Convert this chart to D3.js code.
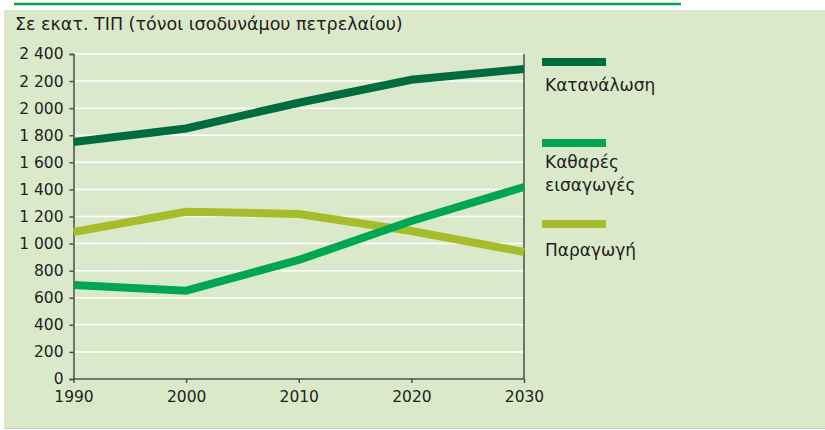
<!DOCTYPE html>
<html><head><meta charset="utf-8">
<script src="https://cdn.jsdelivr.net/npm/d3@7"></script>
<style>body{margin:0;background:#fff}svg{display:block}</style>
</head><body>
<script>
const years = [1990, 2000, 2010, 2020, 2030];
const consumption = [1750, 1850, 2040, 2210, 2290];
const netImports = [694, 652, 879, 1167, 1418];
const production = [1086, 1235, 1219, 1093, 938];
const seriesNames = ["Κατανάλωση", "Καθαρές εισαγωγές", "Παραγωγή"];
const seriesColors = ["#006b3f", "#00a651", "#a5bd2b"];
const yTicks = [0, 200, 400, 600, 800, 1000, 1200, 1400, 1600, 1800, 2000, 2200, 2400];
const title = "Σε εκατ. ΤΙΠ (τόνοι ισοδυνάμου πετρελαίου)";

const W = 825, H = 430;
const svg = d3.select("body").append("svg").attr("width", W).attr("height", H);
const font = "'DejaVu Sans', sans-serif";

svg.append("rect").attr("x", 4).attr("y", 10).attr("width", W - 4).attr("height", 418).attr("fill", "#dbe9cb");
svg.append("line").attr("x1", 4).attr("x2", W).attr("y1", 428.5).attr("y2", 428.5).attr("stroke", "#c8cfc4").attr("stroke-width", 1);
svg.append("line").attr("x1", 14).attr("x2", 681).attr("y1", 4).attr("y2", 4).attr("stroke", "#00a651").attr("stroke-width", 2.5);

svg.append("text").attr("x", 15).attr("y", 30).attr("font-family", font).attr("font-size", 17.5).attr("fill", "#231f20").text(title);

const x = d3.scaleLinear().domain([1990, 2030]).range([73.5, 524]);
const y = d3.scaleLinear().domain([0, 2400]).range([379, 54]);

// gridlines
svg.append("g").selectAll("line").data(yTicks.filter(d => d > 0)).join("line")
  .attr("x1", x(1990)).attr("x2", x(2030))
  .attr("y1", d => y(d)).attr("y2", d => y(d))
  .attr("stroke", "#ffffff").attr("stroke-width", 1.5);

const fmt = d => d >= 1000 ? d3.format(",")(d).replace(",", " ") : String(d);

const yAxis = svg.append("g").attr("transform", `translate(${x(1990)},0)`)
  .call(d3.axisLeft(y).tickValues(yTicks).tickSize(4).tickPadding(6).tickFormat(fmt));
const xAxis = svg.append("g").attr("transform", `translate(0,${y(0)})`)
  .call(d3.axisBottom(x).tickValues(years).tickSize(4).tickPadding(8).tickFormat(d3.format("d")));
[yAxis, xAxis].forEach(a => {
  a.selectAll("path,line").attr("stroke", "#4d4d4d").attr("stroke-width", 1.5);
  a.selectAll("text").attr("font-family", font).attr("font-size", 15.5).attr("fill", "#231f20");
});
xAxis.select(".domain").attr("d", `M${x(1990)},0H${x(2030)}`);

// right vertical line
svg.append("line").attr("x1", x(2030)).attr("x2", x(2030)).attr("y1", y(2400)).attr("y2", y(0))
  .attr("stroke", "#4d4d4d").attr("stroke-width", 1.5);

const allSeries = [consumption, netImports, production];
const line = d3.line().x((d, i) => x(years[i])).y(d => y(d));
[2, 1, 0].forEach(k => {
  svg.append("path").datum(allSeries[k]).attr("d", line)
    .attr("fill", "none").attr("stroke", seriesColors[k]).attr("stroke-width", 8);
});

// legend
const legY = [62, 143, 224];
const labelLines = [["Κατανάλωση"], ["Καθαρές", "εισαγωγές"], ["Παραγωγή"]];
const labelY = [[91], [168, 191], [256]];
seriesNames.forEach((n, k) => {
  svg.append("rect").attr("x", 542).attr("y", legY[k] - 4).attr("width", 64).attr("height", 8).attr("fill", seriesColors[k]);
  labelLines[k].forEach((t, j) => {
    svg.append("text").attr("x", 545).attr("y", labelY[k][j]).attr("font-family", font).attr("font-size", 17)
      .attr("fill", "#231f20").text(t);
  });
});
</script>
</body></html>
